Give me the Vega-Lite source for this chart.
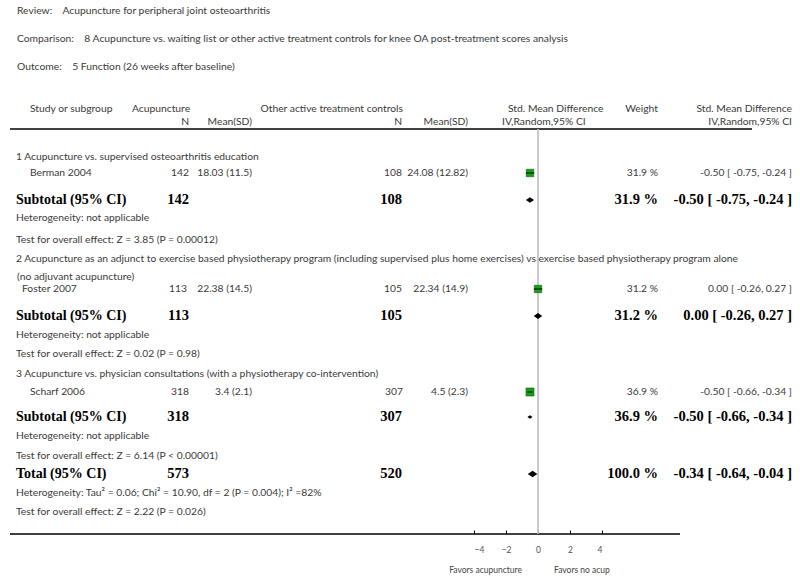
{
  "$schema": "https://vega.github.io/schema/vega-lite/v6.json",
  "width": 800,
  "height": 534,
  "autosize": {"type": "none"},
  "padding": {"left": 0, "top": 0, "right": 0, "bottom": 47},
  "background": "white",
  "config": {"view": {"stroke": null}},
  "datasets": {
    "cells": [
      {"text": "Review:\u00a0\u00a0\u00a0\u00a0Acupuncture for peripheral joint osteoarthritis", "col": "title", "kind": "plain", "x": 17, "y": 11},
      {"text": "Comparison:\u00a0\u00a0\u00a0\u00a08 Acupuncture vs. waiting list or other active treatment controls for knee OA post-treatment scores analysis", "col": "title", "kind": "plain", "x": 17, "y": 39},
      {"text": "Outcome:\u00a0\u00a0\u00a0\u00a05 Function (26 weeks after baseline)", "col": "title", "kind": "plain", "x": 17, "y": 67},
      {"text": "Study or subgroup", "col": "hdrL", "kind": "plain", "x": 30, "y": 109},
      {"text": "Acupuncture", "col": "hdrL", "kind": "plain", "x": 132, "y": 109},
      {"text": "Other active treatment controls", "col": "hdrR", "kind": "plain", "x": 403, "y": 109},
      {"text": "Std. Mean Difference", "col": "hdrL", "kind": "plain", "x": 508, "y": 109},
      {"text": "Weight", "col": "hdrR", "kind": "plain", "x": 658, "y": 109},
      {"text": "Std. Mean Difference", "col": "hdrR", "kind": "plain", "x": 792, "y": 109},
      {"text": "N", "col": "hdrR", "kind": "plain", "x": 189, "y": 122},
      {"text": "Mean(SD)", "col": "hdrR", "kind": "plain", "x": 252, "y": 122},
      {"text": "N", "col": "hdrR", "kind": "plain", "x": 402, "y": 122},
      {"text": "Mean(SD)", "col": "hdrR", "kind": "plain", "x": 468, "y": 122},
      {"text": "IV,Random,95% CI", "col": "hdrL", "kind": "plain", "x": 502, "y": 122},
      {"text": "IV,Random,95% CI", "col": "hdrR", "kind": "plain", "x": 792, "y": 122},

      {"text": "1 Acupuncture vs. supervised osteoarthritis education", "col": "note", "kind": "plain", "x": 16, "y": 157},
      {"text": "Berman 2004", "col": "study", "kind": "plain", "x": 30, "y": 173},
      {"text": "142", "col": "n1", "kind": "plain", "x": 189, "y": 173},
      {"text": "18.03 (11.5)", "col": "m1", "kind": "plain", "x": 252, "y": 173},
      {"text": "108", "col": "n2", "kind": "plain", "x": 402, "y": 173},
      {"text": "24.08 (12.82)", "col": "m2", "kind": "plain", "x": 468, "y": 173},
      {"text": "31.9 %", "col": "wt", "kind": "plain", "x": 658, "y": 173},
      {"text": "-0.50 [ -0.75, -0.24 ]", "col": "ci", "kind": "plain", "x": 792, "y": 173},
      {"text": "Subtotal (95% CI)", "col": "study", "kind": "sum", "x": 16, "y": 200},
      {"text": "142", "col": "n1", "kind": "sum", "x": 189, "y": 200},
      {"text": "108", "col": "n2", "kind": "sum", "x": 402, "y": 200},
      {"text": "31.9 %", "col": "wt", "kind": "sum", "x": 658, "y": 200},
      {"text": "-0.50 [ -0.75, -0.24 ]", "col": "ci", "kind": "sum", "x": 792, "y": 200},
      {"text": "Heterogeneity: not applicable", "col": "note", "kind": "plain", "x": 16, "y": 218},
      {"text": "Test for overall effect: Z = 3.85 (P = 0.00012)", "col": "note", "kind": "plain", "x": 16, "y": 240},

      {"text": "2 Acupuncture as an adjunct to exercise based physiotherapy program (including supervised plus home exercises) vs exercise based physiotherapy program alone", "col": "note", "kind": "plain", "x": 16, "y": 259},
      {"text": "(no adjuvant acupuncture)", "col": "note", "kind": "plain", "x": 17, "y": 277},
      {"text": "Foster 2007", "col": "study", "kind": "plain", "x": 22, "y": 289},
      {"text": "113", "col": "n1", "kind": "plain", "x": 187, "y": 289},
      {"text": "22.38 (14.5)", "col": "m1", "kind": "plain", "x": 252, "y": 289},
      {"text": "105", "col": "n2", "kind": "plain", "x": 402, "y": 289},
      {"text": "22.34 (14.9)", "col": "m2", "kind": "plain", "x": 468, "y": 289},
      {"text": "31.2 %", "col": "wt", "kind": "plain", "x": 658, "y": 289},
      {"text": "0.00 [ -0.26, 0.27 ]", "col": "ci", "kind": "plain", "x": 792, "y": 289},
      {"text": "Subtotal (95% CI)", "col": "study", "kind": "sum", "x": 16, "y": 316},
      {"text": "113", "col": "n1", "kind": "sum", "x": 189, "y": 316},
      {"text": "105", "col": "n2", "kind": "sum", "x": 402, "y": 316},
      {"text": "31.2 %", "col": "wt", "kind": "sum", "x": 658, "y": 316},
      {"text": "0.00 [ -0.26, 0.27 ]", "col": "ci", "kind": "sum", "x": 792, "y": 316},
      {"text": "Heterogeneity: not applicable", "col": "note", "kind": "plain", "x": 16, "y": 335},
      {"text": "Test for overall effect: Z = 0.02 (P = 0.98)", "col": "note", "kind": "plain", "x": 16, "y": 354},

      {"text": "3 Acupuncture vs. physician consultations (with a physiotherapy co-intervention)", "col": "note", "kind": "plain", "x": 16, "y": 374},
      {"text": "Scharf 2006", "col": "study", "kind": "plain", "x": 30, "y": 392},
      {"text": "318", "col": "n1", "kind": "plain", "x": 189, "y": 392},
      {"text": "3.4 (2.1)", "col": "m1", "kind": "plain", "x": 252, "y": 392},
      {"text": "307", "col": "n2", "kind": "plain", "x": 403, "y": 392},
      {"text": "4.5 (2.3)", "col": "m2", "kind": "plain", "x": 468, "y": 392},
      {"text": "36.9 %", "col": "wt", "kind": "plain", "x": 658, "y": 392},
      {"text": "-0.50 [ -0.66, -0.34 ]", "col": "ci", "kind": "plain", "x": 792, "y": 392},
      {"text": "Subtotal (95% CI)", "col": "study", "kind": "sum", "x": 16, "y": 417},
      {"text": "318", "col": "n1", "kind": "sum", "x": 189, "y": 417},
      {"text": "307", "col": "n2", "kind": "sum", "x": 402, "y": 417},
      {"text": "36.9 %", "col": "wt", "kind": "sum", "x": 658, "y": 417},
      {"text": "-0.50 [ -0.66, -0.34 ]", "col": "ci", "kind": "sum", "x": 792, "y": 417},
      {"text": "Heterogeneity: not applicable", "col": "note", "kind": "plain", "x": 16, "y": 436},
      {"text": "Test for overall effect: Z = 6.14 (P < 0.00001)", "col": "note", "kind": "plain", "x": 16, "y": 456},

      {"text": "Total (95% CI)", "col": "study", "kind": "sum", "x": 16, "y": 474},
      {"text": "573", "col": "n1", "kind": "sum", "x": 189, "y": 474},
      {"text": "520", "col": "n2", "kind": "sum", "x": 402, "y": 474},
      {"text": "100.0 %", "col": "wt", "kind": "sum", "x": 658, "y": 474},
      {"text": "-0.34 [ -0.64, -0.04 ]", "col": "ci", "kind": "sum", "x": 792, "y": 474},
      {"text": "Heterogeneity: Tau\u00b2 = 0.06; Chi\u00b2 = 10.90, df = 2 (P = 0.004); I\u00b2 =82%", "col": "note", "kind": "plain", "x": 16, "y": 493},
      {"text": "Test for overall effect: Z = 2.22 (P = 0.026)", "col": "note", "kind": "plain", "x": 16, "y": 512}
    ],
    "rules": [
      {"y": 129, "x1": 10, "x2": 752},
      {"y": 534, "x1": 10, "x2": 680}
    ],
    "effects": [
      {"y": 173, "type": "study", "est": -0.50, "lo": -0.75, "hi": -0.24, "weight": 31.9},
      {"y": 200, "type": "pooled", "est": -0.50, "lo": -0.75, "hi": -0.24, "weight": 31.9},
      {"y": 289, "type": "study", "est": 0.00, "lo": -0.26, "hi": 0.27, "weight": 31.2},
      {"y": 316, "type": "pooled", "est": 0.00, "lo": -0.26, "hi": 0.27, "weight": 31.2},
      {"y": 392, "type": "study", "est": -0.50, "lo": -0.66, "hi": -0.34, "weight": 36.9},
      {"y": 417, "type": "pooled", "est": -0.50, "lo": -0.66, "hi": -0.34, "weight": 36.9},
      {"y": 474, "type": "pooled", "est": -0.34, "lo": -0.64, "hi": -0.04, "weight": 100.0}
    ],
    "favors": [
      {"text": "Favors acupuncture", "side": "left", "at": -1},
      {"text": "Favors no acup", "side": "right", "at": 1}
    ]
  },
  "resolve": {"scale": {"x": "independent"}, "axis": {"x": "independent"}},
  "layer": [
    {
      "data": {"name": "rules"},
      "mark": {"type": "rule", "color": "#000000", "strokeWidth": 1.3},
      "encoding": {
        "x": {"field": "x1", "type": "quantitative", "scale": {"domain": [0, 800], "nice": false, "zero": false}, "axis": null},
        "x2": {"field": "x2"},
        "y": {"field": "y", "type": "quantitative", "scale": {"domain": [0, 534], "reverse": true, "nice": false, "zero": false}, "axis": null}
      }
    },
    {
      "data": {"name": "effects"},
      "transform": [{"filter": "datum.type == 'study'"}],
      "mark": {"type": "rule", "color": "#c4c4c4", "strokeWidth": 1},
      "encoding": {
        "x": {"datum": 0, "type": "quantitative", "scale": {"domain": [-4, 4], "range": [474, 602], "nice": false, "zero": false},
          "axis": {"orient": "bottom", "offset": -4, "domain": false, "ticks": true, "tickSize": 4, "tickWidth": 1, "tickColor": "#000000", "values": [-4, -2, 0, 2, 4], "labelFont": "Lato", "labelFontSize": 8.5, "labelColor": "#555555", "labelPadding": 11, "title": null, "grid": false}},
        "y": {"datum": 129, "type": "quantitative", "scale": {"domain": [0, 534], "reverse": true, "nice": false, "zero": false}, "axis": null},
        "y2": {"datum": 534}
      }
    },
    {
      "data": {"name": "effects"},
      "transform": [{"filter": "datum.type == 'study'"}],
      "mark": {"type": "point", "shape": "square", "filled": true, "fill": "#17a117", "stroke": "#0b5a0b", "strokeWidth": 0.6, "opacity": 1},
      "encoding": {
        "x": {"field": "est", "type": "quantitative", "scale": {"domain": [-4, 4], "range": [474, 602], "nice": false, "zero": false}, "axis": null},
        "y": {"field": "y", "type": "quantitative", "scale": {"domain": [0, 534], "reverse": true, "nice": false, "zero": false}, "axis": null},
        "size": {"field": "weight", "type": "quantitative", "scale": {"domain": [0, 36.9], "range": [0, 64]}, "legend": null}
      }
    },
    {
      "data": {"name": "effects"},
      "transform": [{"filter": "datum.type == 'study'"}],
      "mark": {"type": "rule", "color": "#000000", "strokeWidth": 1},
      "encoding": {
        "x": {"field": "lo", "type": "quantitative", "scale": {"domain": [-4, 4], "range": [474, 602], "nice": false, "zero": false}, "axis": null},
        "x2": {"field": "hi"},
        "y": {"field": "y", "type": "quantitative", "scale": {"domain": [0, 534], "reverse": true, "nice": false, "zero": false}, "axis": null}
      }
    },
    {
      "data": {"name": "effects"},
      "transform": [
        {"filter": "datum.type == 'pooled'"},
        {"calculate": "pow((datum.hi - datum.lo) * 16, 2)", "as": "dsize"}
      ],
      "mark": {"type": "point", "shape": "M-1,0L0,-0.7L1,0L0,0.7Z", "filled": true, "fill": "#000000", "stroke": null, "opacity": 1},
      "encoding": {
        "x": {"field": "est", "type": "quantitative", "scale": {"domain": [-4, 4], "range": [474, 602], "nice": false, "zero": false}, "axis": null},
        "y": {"field": "y", "type": "quantitative", "scale": {"domain": [0, 534], "reverse": true, "nice": false, "zero": false}, "axis": null},
        "size": {"field": "dsize", "type": "quantitative", "scale": null, "legend": null}
      }
    },
    {
      "data": {"name": "favors"},
      "transform": [{"filter": "datum.side == 'left'"}],
      "mark": {"type": "text", "align": "right", "baseline": "middle", "font": "Lato", "fontSize": 8.5, "color": "#444444"},
      "encoding": {
        "x": {"field": "at", "type": "quantitative", "scale": {"domain": [-4, 4], "range": [474, 602], "nice": false, "zero": false}, "axis": null},
        "y": {"datum": 570, "type": "quantitative", "scale": {"domain": [0, 534], "reverse": true, "nice": false, "zero": false}, "axis": null},
        "text": {"field": "text"}
      }
    },
    {
      "data": {"name": "favors"},
      "transform": [{"filter": "datum.side == 'right'"}],
      "mark": {"type": "text", "align": "left", "baseline": "middle", "font": "Lato", "fontSize": 8.5, "color": "#444444"},
      "encoding": {
        "x": {"field": "at", "type": "quantitative", "scale": {"domain": [-4, 4], "range": [474, 602], "nice": false, "zero": false}, "axis": null},
        "y": {"datum": 570, "type": "quantitative", "scale": {"domain": [0, 534], "reverse": true, "nice": false, "zero": false}, "axis": null},
        "text": {"field": "text"}
      }
    },
    {
      "data": {"name": "cells"},
      "transform": [{"filter": "datum.kind == 'plain' && indexof(['title','note','study','hdrL'], datum.col) >= 0"}],
      "mark": {"type": "text", "align": "left", "baseline": "middle", "font": "Lato", "fontSize": 10.3, "color": "#3a3a3a"},
      "encoding": {
        "x": {"field": "x", "type": "quantitative", "scale": {"domain": [0, 800], "nice": false, "zero": false}, "axis": null},
        "y": {"field": "y", "type": "quantitative", "scale": {"domain": [0, 534], "reverse": true, "nice": false, "zero": false}, "axis": null},
        "text": {"field": "text"}
      }
    },
    {
      "data": {"name": "cells"},
      "transform": [{"filter": "datum.kind == 'plain' && indexof(['title','note','study','hdrL'], datum.col) < 0"}],
      "mark": {"type": "text", "align": "right", "baseline": "middle", "font": "Lato", "fontSize": 10.3, "color": "#3a3a3a"},
      "encoding": {
        "x": {"field": "x", "type": "quantitative", "scale": {"domain": [0, 800], "nice": false, "zero": false}, "axis": null},
        "y": {"field": "y", "type": "quantitative", "scale": {"domain": [0, 534], "reverse": true, "nice": false, "zero": false}, "axis": null},
        "text": {"field": "text"}
      }
    },
    {
      "data": {"name": "cells"},
      "transform": [{"filter": "datum.kind == 'sum' && datum.col == 'study'"}],
      "mark": {"type": "text", "align": "left", "baseline": "middle", "font": "Liberation Serif", "fontWeight": "bold", "fontSize": 14, "color": "#000000"},
      "encoding": {
        "x": {"field": "x", "type": "quantitative", "scale": {"domain": [0, 800], "nice": false, "zero": false}, "axis": null},
        "y": {"field": "y", "type": "quantitative", "scale": {"domain": [0, 534], "reverse": true, "nice": false, "zero": false}, "axis": null},
        "text": {"field": "text"}
      }
    },
    {
      "data": {"name": "cells"},
      "transform": [{"filter": "datum.kind == 'sum' && datum.col != 'study'"}],
      "mark": {"type": "text", "align": "right", "baseline": "middle", "font": "Liberation Serif", "fontWeight": "bold", "fontSize": 14.5, "color": "#000000"},
      "encoding": {
        "x": {"field": "x", "type": "quantitative", "scale": {"domain": [0, 800], "nice": false, "zero": false}, "axis": null},
        "y": {"field": "y", "type": "quantitative", "scale": {"domain": [0, 534], "reverse": true, "nice": false, "zero": false}, "axis": null},
        "text": {"field": "text"}
      }
    }
  ]
}
